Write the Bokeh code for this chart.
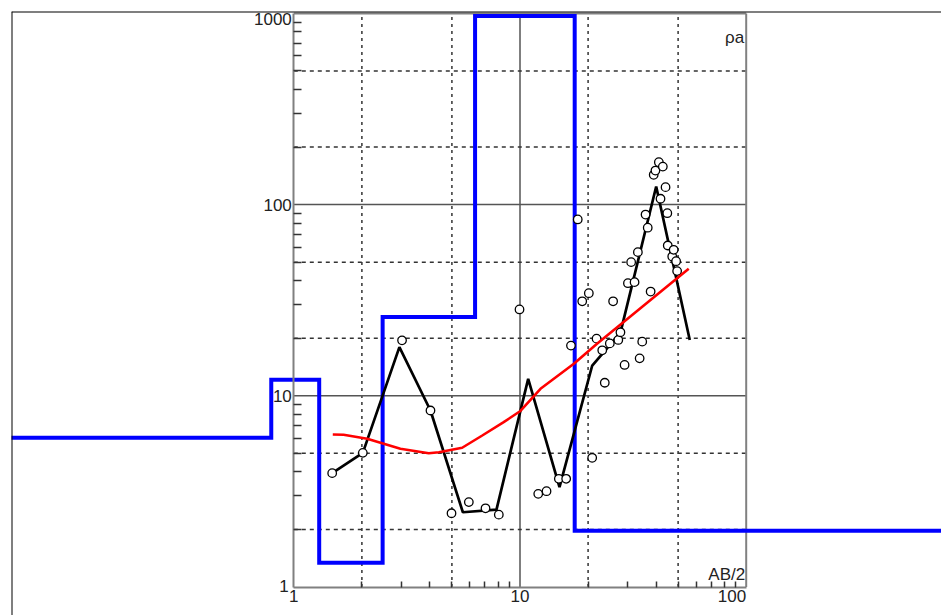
from bokeh.plotting import figure
from bokeh.models import Range1d, LogAxis, FixedTicker, Span
from bokeh.core.properties import value
from bokeh.embed import file_html
from bokeh.resources import INLINE

# ---------------- data ----------------
# layered model (blue step): layer boundaries (AB/2) and layer resistivities
LAYER_BOUNDS = [0.795, 1.295, 2.47, 6.33, 17.45]
LAYER_RHO = [6.03, 12.15, 1.34, 25.8, 970.0, 1.97]
LEFT_END, RIGHT_END = 0.01, 10000.0   # half-space layers run off the chart

# measured apparent resistivity (open circles)
OBS_X = [1.478, 2.019, 3.01, 4.02, 4.98, 5.94, 7.04, 8.06, 9.95, 12.04, 13.1, 14.85,
         16.0, 16.8, 18.0, 18.84, 20.15, 20.85, 21.8, 23.1, 23.7, 24.95, 25.8, 27.2,
         27.8, 29.0, 30.0, 31.0, 32.1, 33.2, 33.8, 34.7, 35.9, 36.7, 37.8, 39.0,
         39.7, 41.1, 41.8, 42.8, 44.0, 44.8, 45.0, 47.1, 47.8, 49.0, 49.5]
OBS_Y = [3.94, 5.03, 19.5, 8.38, 2.43, 2.78, 2.58, 2.39, 28.3, 3.07, 3.17, 3.68,
         3.68, 18.3, 83.6, 31.2, 34.4, 4.74, 19.9, 17.3, 11.7, 18.8, 31.2, 19.6,
         21.5, 14.5, 38.8, 50.0, 39.3, 56.4, 15.7, 19.2, 88.7, 75.7, 35.1, 143.2,
         150.7, 166.7, 107.3, 158.0, 123.4, 90.2, 61.1, 53.5, 58.0, 50.6, 44.9]

# black curve
BLACK_X = [1.478, 2.019, 2.93, 4.02, 5.59, 7.87, 10.87, 14.95, 20.86, 27.8, 40.0, 56.3]
BLACK_Y = [3.94, 5.03, 17.96, 8.38, 2.46, 2.54, 12.27, 3.33, 14.4, 21.4, 124.4, 19.6]

# red curve
RED_X = [1.487, 1.66, 2.11, 2.96, 3.95, 4.38, 5.55, 6.81, 8.47, 10.0, 12.32, 17.3, 21.9, 55.7]
RED_Y = [6.28, 6.26, 5.96, 5.28, 5.01, 5.07, 5.35, 6.2, 7.28, 8.3, 10.88, 14.7, 18.7, 46.2]

# axes
X_MIN, X_MAX = 1, 100
Y_MIN, Y_MAX = 1, 1000
X_TICKS = [1, 10, 100]
X_LABELS = ["1", "10", "100"]
Y_TICKS = [1, 10, 100, 1000]
Y_LABELS = ["1", "10", "100", "1000"]
X_MINOR = [m * d for d in (1, 10) for m in range(2, 10)]
Y_MINOR = [m * d for d in (1, 10, 100) for m in range(2, 10)]
GRID_X_DASH = [2, 5, 20, 50]
GRID_X_SOLID = [10]
GRID_Y_DASH = [2, 5, 20, 50, 200, 500]
GRID_Y_SOLID = [10, 100]
Y_NAME = "ρa"
X_NAME = "AB/2"

# ---------------- layout ----------------
W, H = 941, 615
FRAME_L, FRAME_T = 11, 11
PX_X1, DEC_X = 293.3, 226.2     # px of x=1, px per decade
PX_Y1, DEC_Y = 586.5, 191.2     # px of y=1, px per decade
x_start = 10 ** ((FRAME_L - PX_X1) / DEC_X)
x_end = 10 ** ((W - PX_X1) / DEC_X)
y_top = 10 ** ((PX_Y1 - FRAME_T) / DEC_Y)
y_bot = 10 ** ((PX_Y1 - H) / DEC_Y)

p = figure(width=W, height=H, x_axis_type="log", y_axis_type="log",
           x_range=Range1d(x_start, x_end), y_range=Range1d(y_bot, y_top),
           x_axis_location=None, y_axis_location=None, title=None,
           toolbar_location=None, output_backend="svg",
           min_border_left=FRAME_L, min_border_top=FRAME_T,
           min_border_right=0, min_border_bottom=0)
p.outline_line_color = None
p.background_fill_color = "white"
p.border_fill_color = "white"
p.grid.visible = False

FONT = value("Liberation Sans")
GRID_C = "#333333"
SOLID_C = "#555555"
AXIS_C = "#808080"

# grid
p.segment(x0=GRID_X_DASH, y0=[Y_MIN] * len(GRID_X_DASH), x1=GRID_X_DASH, y1=[Y_MAX] * len(GRID_X_DASH),
          line_color=GRID_C, line_width=1.5, line_dash="3 4")
p.segment(x0=GRID_X_SOLID, y0=[Y_MIN], x1=GRID_X_SOLID, y1=[Y_MAX],
          line_color=SOLID_C, line_width=1.5)
p.segment(x0=[X_MIN] * len(GRID_Y_DASH), y0=GRID_Y_DASH, x1=[X_MAX] * len(GRID_Y_DASH), y1=GRID_Y_DASH,
          line_color=GRID_C, line_width=1.5, line_dash="4 4")
p.segment(x0=[X_MIN] * 2, y0=GRID_Y_SOLID, x1=[X_MAX] * 2, y1=GRID_Y_SOLID,
          line_color=SOLID_C, line_width=1.5)
# inner box right and top edges
p.segment(x0=[X_MAX, X_MIN], y0=[Y_MIN, Y_MAX], x1=[X_MAX, X_MAX], y1=[Y_MAX, Y_MAX],
          line_color=AXIS_C, line_width=2)

# blue layered model
step_x = [LEFT_END] + LAYER_BOUNDS + [RIGHT_END]
step_y = LAYER_RHO + [LAYER_RHO[-1]]
p.step(step_x, step_y, mode="after", line_color="#0000ff", line_width=4, line_join="miter")

# black curve
p.line(BLACK_X, BLACK_Y, line_color="black", line_width=2.7)
# observed points
p.scatter(OBS_X, OBS_Y, marker="circle", size=8.5, line_color="black", line_width=1.3,
          fill_color="white")
# red curve
p.line(RED_X, RED_Y, line_color="#ff0000", line_width=2.6)

# axes
xaxis = LogAxis(ticker=FixedTicker(ticks=[], minor_ticks=X_MINOR), bounds=(X_MIN, X_MAX),
                fixed_location=Y_MIN, axis_line_color=AXIS_C, axis_line_width=2,
                minor_tick_in=6, minor_tick_out=0, major_tick_in=6, major_tick_out=0,
                minor_tick_line_color="#333333", minor_tick_line_width=1.5)
yaxis = LogAxis(ticker=FixedTicker(ticks=[], minor_ticks=Y_MINOR), bounds=(Y_MIN, Y_MAX),
                fixed_location=X_MIN, axis_line_color=AXIS_C, axis_line_width=2,
                minor_tick_in=8, minor_tick_out=0, major_tick_in=8, major_tick_out=0,
                minor_tick_line_color="#333333", minor_tick_line_width=1.5)
p.add_layout(xaxis, "below")
p.add_layout(yaxis, "left")

# outer border (top and left)
p.add_layout(Span(location=x_start, dimension="height", line_color="black", line_width=2))
p.add_layout(Span(location=y_top, dimension="width", line_color="black", line_width=2))

# tick labels
TXT = dict(text_font=FONT, text_font_size="17px", text_color="#222222")
p.text(x=[X_MIN] * 1, y=Y_TICKS[-1:], text=Y_LABELS[-1:], text_align="right",
       text_baseline="top", x_offset=-2, y_offset=0, **TXT)
p.text(x=[X_MIN] * 2, y=Y_TICKS[1:3], text=Y_LABELS[1:3], text_align="right",
       text_baseline="middle", x_offset=-2, **TXT)
p.text(x=[X_MIN], y=Y_TICKS[:1], text=Y_LABELS[:1], text_align="right",
       text_baseline="alphabetic", x_offset=-5, y_offset=-1, **TXT)
p.text(x=X_TICKS[:2], y=[Y_MIN] * 2, text=X_LABELS[:2], text_align="center",
       text_baseline="top", y_offset=3, **TXT)
p.text(x=X_TICKS[2:], y=[Y_MIN], text=X_LABELS[2:], text_align="right",
       text_baseline="top", y_offset=3, **TXT)

# axis names
p.text(x=[X_MAX], y=[Y_MAX], text=[Y_NAME], text_align="right", text_baseline="alphabetic",
       x_offset=-2, y_offset=24, **TXT)
p.text(x=[X_MAX], y=[Y_MIN], text=[X_NAME], text_align="right", text_baseline="alphabetic",
       x_offset=-1, y_offset=-13, **TXT)

open("out.html", "w").write(file_html(p, INLINE))
